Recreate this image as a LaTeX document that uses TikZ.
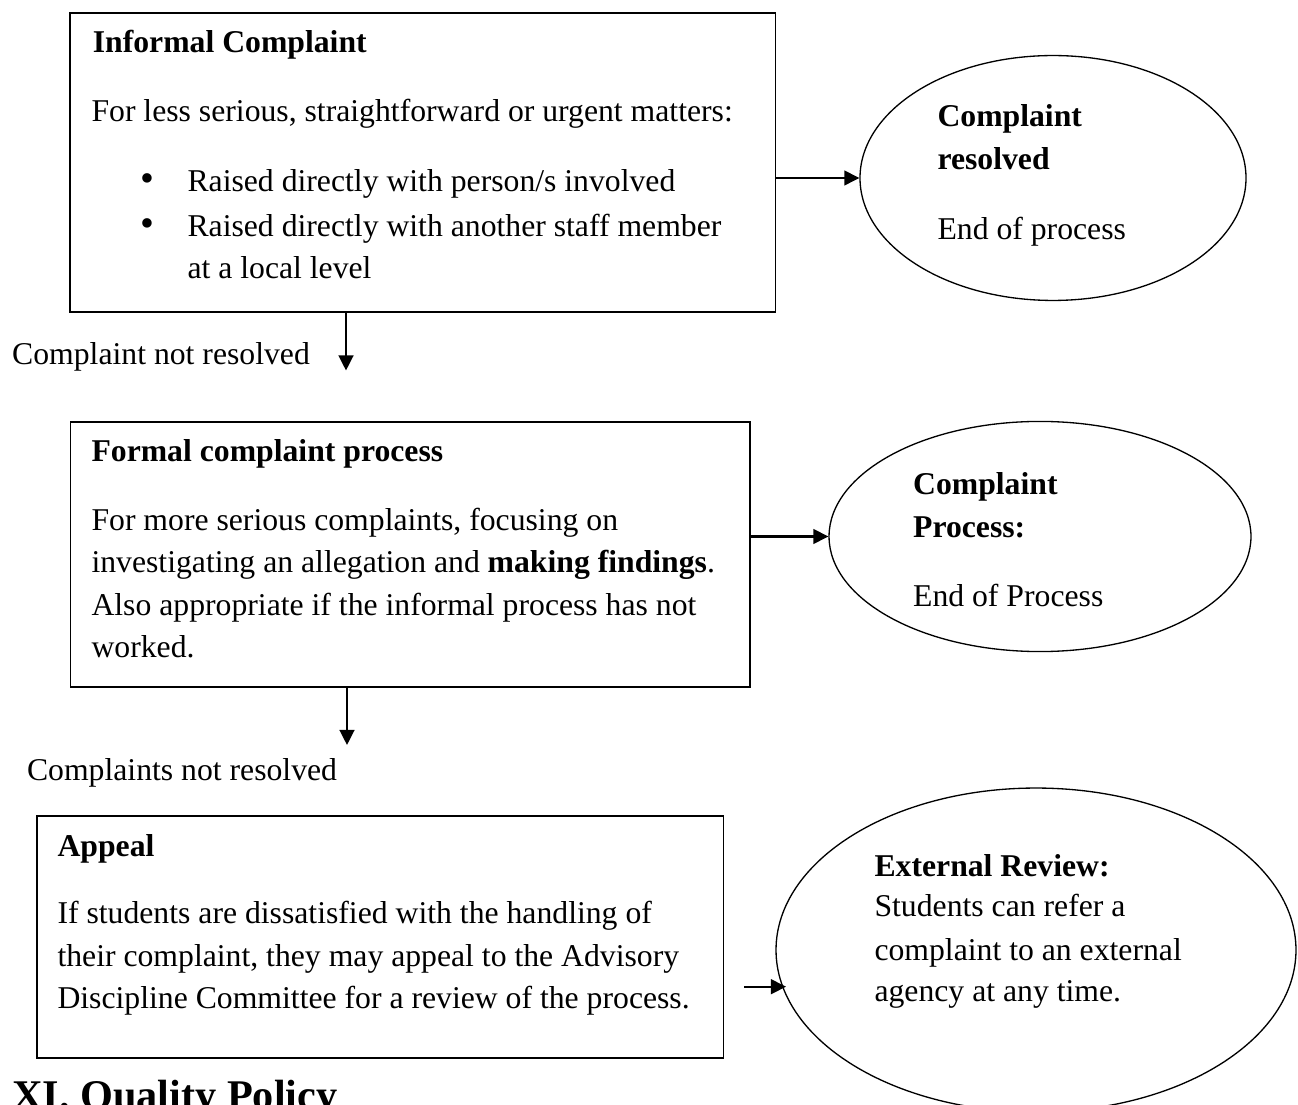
\documentclass[tikz,border=0pt]{standalone}
\usepackage{fontspec}
\setmainfont{Liberation Serif}
\usetikzlibrary{arrows.meta,shapes.geometric,fit}
\begin{document}
\begin{tikzpicture}[x=0.3785pt,y=-0.3785pt,
  box/.style={draw,line width=0.65pt,inner sep=0pt,rectangle},
  oval/.style={draw,ellipse,line width=0.5pt,inner sep=0pt},
  txt/.style={anchor=base west,inner sep=0pt,font=\fontsize{12}{14}\selectfont},
  btxt/.style={txt,font=\fontsize{12}{14}\selectfont\bfseries},
  bul/.style={anchor=base,inner sep=0pt,font=\fontsize{15}{15}\selectfont},
  arr/.style={line width=0.76pt,-{Triangle[length=5.7pt,width=5.6pt]}}]
\useasboundingbox (0,0) rectangle (1298,1105);
\clip (0,0) rectangle (1298,1105);

% boxes
\node[box,fit={(70,13) (775.5,312)}] (b1) {};
\node[box,fit={(70.4,422) (750,687)}] (b2) {};
\node[box,fit={(36.7,815.7) (723.5,1058)}] (b3) {};

% ellipses
\node[oval,minimum width=146.1pt,minimum height=92.7pt] (e1) at (1053,178) {};
\node[oval,minimum width=159.7pt,minimum height=87.1pt] (e2) at (1040,536.5) {};
\node[oval,minimum width=196.8pt,minimum height=122.6pt] (e3) at (1036,950) {};

% box 1 text
\node[btxt] (t11) at (92.3,52.5) {Informal Complaint};
\node[txt] (t12) at (91,122) {For less serious, straightforward or urgent matters:};
\node[bul] (u1) at (147,192) {•};
\node[bul] (u2) at (147,237) {•};
\node[txt] (t13) at (187,192) {Raised directly with person/s involved};
\node[txt] (t14) at (187,237) {Raised directly with another staff member};
\node[txt] (t15) at (187,278.5) {at a local level};

% ellipse 1 text
\node[btxt] (s11) at (937,126.4) {Complaint};
\node[btxt] (s12) at (937,170) {resolved};
\node[txt] (s13) at (937,239.8) {End of process};

% label 1
\node[txt] (l1) at (11.7,365) {Complaint not resolved};

% box 2 text
\node[btxt] (t21) at (91,462) {Formal complaint process};
\node[txt] (t22) at (91,530.6) {For more serious complaints, focusing on};
\node[txt] (t23) at (91,573) {investigating an allegation and \textbf{making findings}.};
\node[txt] (t24) at (91,615.5) {Also appropriate if the informal process has not};
\node[txt] (t25) at (91,657.6) {worked.};

% ellipse 2 text
\node[btxt] (s21) at (912.6,495) {Complaint};
\node[btxt] (s22) at (912.6,538) {Process:};
\node[txt] (s23) at (912.6,606.7) {End of Process};

% label 2
\node[txt] (l2) at (26.5,780.5) {Complaints not resolved};

% box 3 text
\node[btxt] (t31) at (57,856.7) {Appeal};
\node[txt] (t32) at (57,923) {If students are dissatisfied with the handling of};
\node[txt] (t33) at (57,966.7) {their complaint, they may appeal to the Advisory};
\node[txt] (t34) at (57,1008.3) {Discipline Committee for a review of the process.};

% ellipse 3 text
\node[btxt] (s31) at (874,876.7) {External Review:};
\node[txt] (s32) at (874,916.7) {Students can refer a};
\node[txt] (s33) at (874,960) {complaint to an external};
\node[txt] (s34) at (874,1001.7) {agency at any time.};

% heading
\node[anchor=base west,inner sep=0pt,font=\fontsize{16}{18}\selectfont\bfseries] (h) at (11.7,1109.6) {XI. Quality Policy};

% connectors
\draw[arr] (b1.east |- e1.west) -- (e1.west);
\coordinate (d1) at (346,370.5);
\draw[arr] (b1.south -| d1) -- (d1);
\draw[arr] (b2.east |- e2.west) -- (e2.west);
\coordinate (d2) at (347,745);
\draw[arr] (b2.south -| d2) -- (d2);
\coordinate (a3s) at (744,986.7);
\coordinate (a3e) at (786,986.7);
\draw[arr] (a3s) -- (a3e);
\end{tikzpicture}
\end{document}
